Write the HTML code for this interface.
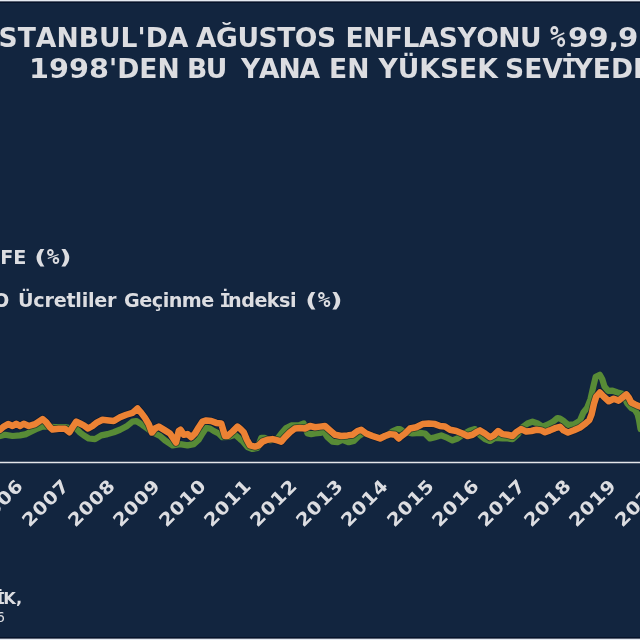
<!DOCTYPE html>
<html><head><meta charset="utf-8">
<style>
html,body{margin:0;padding:0;}
body{width:640px;height:640px;overflow:hidden;position:relative;background:#12253f;font-family:"DejaVu Sans","Liberation Sans",sans-serif;font-weight:bold;color:#dcdde1;font-kerning:none;}
.topb{position:absolute;left:0;top:0;width:640px;height:3px;background:linear-gradient(#e6ebf2 0,#e6ebf2 1px,#5a6272 1px,#5a6272 2px,#06132a 2px,#06132a 3px);}
.botb{position:absolute;left:0;top:637px;width:640px;height:3px;background:linear-gradient(#06132a 0,#06132a 1px,#5a6272 1px,#5a6272 2px,#e6ebf2 2px,#e6ebf2 3px);}
.t{position:absolute;white-space:nowrap;line-height:1;}
.title{font-size:26.6px;}
.leg{font-size:19.2px;}
.pc{display:inline-block;transform:scaleX(0.62);transform-origin:0 50%;}
.dg{display:inline-block;transform-origin:0 50%;}
.pm{font-family:"DejaVu Sans Mono",monospace;display:inline-block;transform-origin:0 50%;line-height:0;}
.mi{font-family:"DejaVu Sans Mono",monospace;margin-left:-0.075em;margin-right:-0.13em;}
.pr{display:inline-block;transform:scaleX(1.4);}
.yr{position:absolute;font-size:18px;line-height:1;white-space:nowrap;transform-origin:100% 100%;transform:rotate(-45deg) scaleX(1.1);letter-spacing:0.6px;}
svg{position:absolute;left:0;top:0;}
</style></head><body>
<div class="topb"></div>
<div class="t title" id="a0" style="left:-12px;top:25px;letter-spacing:0px"><span class="mi">İ</span>STANBUL'DA</div>
<div class="t title" id="a1" style="left:196px;top:25px;letter-spacing:-0.5px">AĞUSTOS</div>
<div class="t title" id="a2" style="left:345.5px;top:25px;letter-spacing:-0.55px">ENFLASYONU</div>
<div class="t title" id="a3" style="left:550px;top:25px;letter-spacing:0px"><span class="pm" style="font-size:31px;transform:scaleX(0.82);margin-right:-0.6px">%</span><span class="dg" style="transform:scaleX(1.1);margin-right:3.7px">99</span><span style="letter-spacing:-0.5px">,</span><span class="dg" style="transform:scaleX(1.1);margin-right:3.7px">92</span></div>
<div class="t title" id="b0" style="left:29px;top:56px;letter-spacing:0px"><span class="dg" style="transform:scaleX(1.08);margin-right:6px">1998</span>'DEN</div>
<div class="t title" id="b1" style="left:187px;top:56px;letter-spacing:-1.5px">BU</div>
<div class="t title" id="b2" style="left:241px;top:56px;letter-spacing:-1.2px">YANA</div>
<div class="t title" id="b3" style="left:329px;top:56px;letter-spacing:0px">EN</div>
<div class="t title" id="b4" style="left:378.5px;top:56px;letter-spacing:0px">YÜKSEK</div>
<div class="t title" id="b5" style="left:505px;top:56px;letter-spacing:0px">SEV<span class="mi">İ</span>YEDE</div>
<div class="t leg" id="c0" style="left:-28.5px;top:248px;letter-spacing:0px">TÜFE</div>
<div class="t leg" id="c1" style="left:35.5px;top:248px;letter-spacing:0px"><span class="pr" style="margin-right:2.5px">(</span><span class="pm" style="font-size:21px;margin-right:1.7px">%</span><span class="pr">)</span></div>
<div class="t leg" id="d0" style="left:-27.8px;top:290.5px;letter-spacing:0px"><span class="mi">İ</span>TO</div>
<div class="t leg" id="d1" style="left:18px;top:290.5px;letter-spacing:-0.25px">Ücretliler</div>
<div class="t leg" id="d2" style="left:124px;top:290.5px;letter-spacing:-0.5px">Geçinme</div>
<div class="t leg" id="d3" style="left:221px;top:290.5px;letter-spacing:-0.55px"><span class="mi">İ</span>ndeksi</div>
<div class="t leg" id="d4" style="left:306.5px;top:290.5px;letter-spacing:0px"><span class="pr" style="margin-right:2.5px">(</span><span class="pm" style="font-size:21px;margin-right:1.7px">%</span><span class="pr">)</span></div>
<div class="t" id="s1" style="left:-27.5px;top:590.5px;font-size:16.3px;">TÜ<span class="mi">İ</span>K,</div>
<div class="t" id="s2" style="left:-4px;top:610px;font-size:14px;font-weight:normal;">6</div>
<svg width="640" height="640" viewBox="0 0 640 640">
<line x1="0" y1="462.5" x2="640" y2="462.5" stroke="#e4e6ea" stroke-width="1.6"/>
<polyline points="-5,437 0,436 5,434.75 12.5,436 20,435.4 26.25,434.1 31.25,431.6 37.5,428.5 42.5,426.6 48,426.5 55,427 65,427 70,428 75,427.25 80,432.5 83.75,435.4 88.75,438.5 95,439.1 101.25,435.4 107.5,434.1 113.75,432.25 120,429.75 126.25,426.6 132.5,421.6 136.25,421 141.25,424.1 143.75,426 148,429 152,432 156,434 160,436 165,440.4 172.5,445.4 180,444.1 187.5,445.4 193.75,444.1 198.75,439.75 202.5,433.5 206.25,427.9 210,428.5 213.75,431 218.75,433.5 222.5,437.25 228,437 235,434.75 240,439 242.5,441 247.5,447 252.5,449 257.5,448 261.25,437.9 265,437.9 270,440.4 277.5,438.5 281.25,433.5 286.25,427.9 291.25,425.4 298.75,425.4 303.75,423.5 307.5,433.5 311.25,434.1 315,433.5 320,433 323.75,431.6 327.5,437.25 332.5,441.6 337.5,442.25 342.5,439.75 348.75,442.25 353.75,441 358.75,436 363.75,432.9 372,436 380,438 388,435 393,431 397.5,429.1 400,429.1 403.75,431.6 412.5,433.5 420,432.9 425,433.5 430,438.5 435,437.25 441.25,435.4 447.5,437.9 452.5,440.4 457.5,438.5 462.5,434.75 470,430.4 475,429.1 480,435 485,439.1 490,441 495,437.9 502.5,438.5 507.5,438.5 512.5,439.1 517.5,434.75 522.5,427.25 527.5,423.5 532.5,421.6 537.5,423.5 542.5,426.6 547.5,424.75 552.5,422.083 557.5,418 560,418.533 563.5,420.9 568,424.8 574,424.3 580,420.5 583.4,412.5 587,408 590.5,399 593.4,386.1 595.7,376.7 599.8,374.8 602.2,379 604.5,386.5 608,390.8 612.5,390.6 617.5,392.5 622.5,393.75 627.5,403.75 631.25,408.1 635,410 637.5,414 639,420 640,426 640.5,429" fill="none" stroke="#588b36" stroke-width="6.2" stroke-linejoin="round" stroke-linecap="round"/>
<polyline points="-5,432 0,429.75 3.75,426.6 8.1,424.1 12.5,426 16.25,423.75 20,426 23.75,423.75 28.75,426 35,424.1 38.75,421.6 42.5,419.1 46.25,422.25 50,427.25 52.5,429.5 58.75,428.75 65,428.75 69.4,432.25 72.5,427.25 76.25,421.6 80,423.5 83.75,425.4 88.1,428.5 92.5,426 96.25,422.9 102.5,419.75 108.75,420.4 113.75,421 120,417.25 126.25,414.75 132.5,412.9 137.5,408.5 141.25,412.9 145,417.9 148.75,424.1 151.9,432.5 155,428.5 158.75,426.6 165,430.4 170,433.5 173,438 176,442.5 178.75,431 180.6,429.75 183.75,434.75 187.5,434.1 191.25,437.25 195,433.5 198.75,427.25 202.5,421.6 206.25,420.4 211.25,421 216.25,422.9 221.25,423.5 225,436 227.5,436 232.5,431.6 237.5,426.6 240,428.5 243.75,432.25 246.9,439.75 250,445.4 255,446.6 258.75,445.4 262.5,441.6 267.5,439.75 272.5,439.1 277.5,440.4 281.25,441.6 285,437.25 290,432.25 295,428.5 300,427.9 305,428.5 310,426 315,427.25 320,426.6 325,426 330,430.4 335,434.75 341.25,436 347.5,435.4 352.5,434.75 357.5,431 361.25,429.75 366.25,433.5 372.5,436 380,438.5 385,436 390,434.1 395,434.75 398.75,438.5 400,437.25 405,433.5 410,428.5 416.25,427.25 422.5,424.1 428.75,423.5 435,424.1 440,426 445,426.6 450,429.75 456.25,431 462.5,433.5 467.5,436 472.5,434.75 477.5,431.6 480,430.4 485,433.5 490,437.25 493.75,435.4 498.1,431 502.5,434.1 507.5,434.75 512.5,436 516.25,432.25 521.25,429.1 526.25,431.6 531.25,431 536.25,429.75 541.25,430.4 545,432.25 550,430.4 555,428.167 560,426.833 563.5,430.4 568,432.5 574,430.3 580,427.6 584.6,424.2 589.3,420.1 591.6,414.2 594,403.7 596.3,396.6 599.8,392.5 603.6,396.5 608.75,401.25 613.75,398.75 618.75,400.6 622.5,397.5 626.25,394.4 628.75,397.5 631.25,402.5 635,404.4 637.5,405.5 640,406.5 645,408" fill="none" stroke="#0a1628" stroke-width="8" stroke-linejoin="round" stroke-linecap="round" opacity="0.6"/>
<polyline points="-5,432 0,429.75 3.75,426.6 8.1,424.1 12.5,426 16.25,423.75 20,426 23.75,423.75 28.75,426 35,424.1 38.75,421.6 42.5,419.1 46.25,422.25 50,427.25 52.5,429.5 58.75,428.75 65,428.75 69.4,432.25 72.5,427.25 76.25,421.6 80,423.5 83.75,425.4 88.1,428.5 92.5,426 96.25,422.9 102.5,419.75 108.75,420.4 113.75,421 120,417.25 126.25,414.75 132.5,412.9 137.5,408.5 141.25,412.9 145,417.9 148.75,424.1 151.9,432.5 155,428.5 158.75,426.6 165,430.4 170,433.5 173,438 176,442.5 178.75,431 180.6,429.75 183.75,434.75 187.5,434.1 191.25,437.25 195,433.5 198.75,427.25 202.5,421.6 206.25,420.4 211.25,421 216.25,422.9 221.25,423.5 225,436 227.5,436 232.5,431.6 237.5,426.6 240,428.5 243.75,432.25 246.9,439.75 250,445.4 255,446.6 258.75,445.4 262.5,441.6 267.5,439.75 272.5,439.1 277.5,440.4 281.25,441.6 285,437.25 290,432.25 295,428.5 300,427.9 305,428.5 310,426 315,427.25 320,426.6 325,426 330,430.4 335,434.75 341.25,436 347.5,435.4 352.5,434.75 357.5,431 361.25,429.75 366.25,433.5 372.5,436 380,438.5 385,436 390,434.1 395,434.75 398.75,438.5 400,437.25 405,433.5 410,428.5 416.25,427.25 422.5,424.1 428.75,423.5 435,424.1 440,426 445,426.6 450,429.75 456.25,431 462.5,433.5 467.5,436 472.5,434.75 477.5,431.6 480,430.4 485,433.5 490,437.25 493.75,435.4 498.1,431 502.5,434.1 507.5,434.75 512.5,436 516.25,432.25 521.25,429.1 526.25,431.6 531.25,431 536.25,429.75 541.25,430.4 545,432.25 550,430.4 555,428.167 560,426.833 563.5,430.4 568,432.5 574,430.3 580,427.6 584.6,424.2 589.3,420.1 591.6,414.2 594,403.7 596.3,396.6 599.8,392.5 603.6,396.5 608.75,401.25 613.75,398.75 618.75,400.6 622.5,397.5 626.25,394.4 628.75,397.5 631.25,402.5 635,404.4 637.5,405.5 640,406.5 645,408" fill="none" stroke="#ec8234" stroke-width="6.5" stroke-linejoin="round" stroke-linecap="round"/>
</svg>
<div class="yr" style="right:613.1px;top:470.75px;">2006</div>
<div class="yr" style="right:567.5px;top:470.75px;">2007</div>
<div class="yr" style="right:521.9px;top:470.75px;">2008</div>
<div class="yr" style="right:476.2px;top:470.75px;">2009</div>
<div class="yr" style="right:430.7px;top:470.75px;">2010</div>
<div class="yr" style="right:385.1px;top:470.75px;">2011</div>
<div class="yr" style="right:339.4px;top:470.75px;">2012</div>
<div class="yr" style="right:293.9px;top:470.75px;">2013</div>
<div class="yr" style="right:248.2px;top:470.75px;">2014</div>
<div class="yr" style="right:202.6px;top:470.75px;">2015</div>
<div class="yr" style="right:157.1px;top:470.75px;">2016</div>
<div class="yr" style="right:111.5px;top:470.75px;">2017</div>
<div class="yr" style="right:65.9px;top:470.75px;">2018</div>
<div class="yr" style="right:20.2px;top:470.75px;">2019</div>
<div class="yr" style="right:-25.4px;top:470.75px;">2020</div>
<div class="botb"></div>
</body></html>
